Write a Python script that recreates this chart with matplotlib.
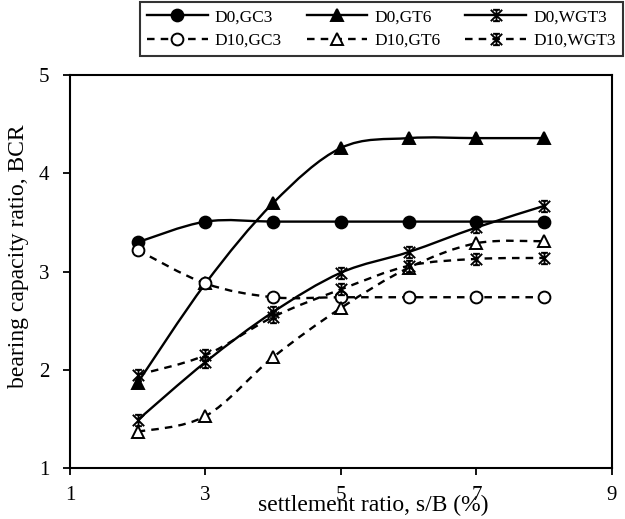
import matplotlib
matplotlib.use('Agg')
from matplotlib import pyplot as plt
from matplotlib.path import Path
from matplotlib.patches import PathPatch
from matplotlib.lines import Line2D

plt.rcParams['font.family'] = ['Liberation Serif', 'DejaVu Serif']

s_B = [2, 3, 4, 5, 6, 7, 8]

d0_gc3 = [3.30, 3.51, 3.51, 3.51, 3.51, 3.51, 3.51]
d0_gt6 = [1.87, 2.88, 3.70, 4.26, 4.36, 4.36, 4.36]
d0_wgt3 = [1.49, 2.08, 2.59, 2.99, 3.20, 3.45, 3.67]
d10_gc3 = [3.22, 2.88, 2.74, 2.74, 2.74, 2.74, 2.74]
d10_gt6 = [1.37, 1.53, 2.13, 2.63, 3.04, 3.29, 3.31]
d10_wgt3 = [1.95, 2.15, 2.54, 2.82, 3.06, 3.13, 3.14]

labels = ['D0,GC3', 'D0,GT6', 'D0,WGT3', 'D10,GC3', 'D10,GT6', 'D10,WGT3']

# asterisk-like marker like the excel "star"
star = Path([(-1, -1), (1, 1), (-1, 1), (1, -1), (0, -1.1), (0, 1.1),
             (-0.6, 1), (0.6, 1), (-0.6, -1), (0.6, -1)],
            [Path.MOVETO, Path.LINETO] * 5)


def smooth_path(x, y):
    # excel style smoothed line: bezier with control points at 1/6
    pts = list(zip(x, y))
    n = len(pts)
    verts = [pts[0]]
    codes = [Path.MOVETO]
    for i in range(n - 1):
        p0 = pts[max(i - 1, 0)]
        p1 = pts[i]
        p2 = pts[i + 1]
        p3 = pts[min(i + 2, n - 1)]
        c1 = (p1[0] + (p2[0] - p0[0]) / 6, p1[1] + (p2[1] - p0[1]) / 6)
        c2 = (p2[0] - (p3[0] - p1[0]) / 6, p2[1] - (p3[1] - p1[1]) / 6)
        verts += [c1, c2, p2]
        codes += [Path.CURVE4] * 3
    return Path(verts, codes)


fig, ax = plt.subplots(figsize=(6.25, 5.19), dpi=100)
fig.subplots_adjust(left=0.112, right=0.979, bottom=0.098, top=0.855)

solid = '-'
dashed = (0, (3.2, 2.6))
series = [
    (d0_gc3, solid, 'o', 'black', 8.5),
    (d0_gt6, solid, '^', 'black', 8.5),
    (d0_wgt3, solid, star, 'black', 9),
    (d10_gc3, dashed, 'o', 'white', 8.5),
    (d10_gt6, dashed, '^', 'white', 8.5),
    (d10_wgt3, dashed, star, 'black', 9),
]

handles = []
for (vals, ls, mk, fc, ms), lab in zip(series, labels):
    patch = PathPatch(smooth_path(s_B, vals), fill=False, edgecolor='black',
                      linewidth=1.7, linestyle=ls, transform=ax.transData,
                      zorder=2)
    ax.add_patch(patch)
    ax.plot(s_B, vals, linestyle='none', marker=mk, markersize=ms,
            markerfacecolor=fc, markeredgecolor='black', markeredgewidth=1.4,
            zorder=3)
    handles.append(Line2D([], [], color='black', linewidth=1.7, linestyle=ls,
                          marker=mk, markersize=ms, markerfacecolor=fc,
                          markeredgecolor='black', markeredgewidth=1.4))

ax.set_xlim(1, 9)
ax.set_ylim(1, 5)
ax.set_xticks([1, 3, 5, 7, 9])
ax.set_yticks([1, 2, 3, 4, 5])
ax.tick_params(direction='out', length=5, width=1.3, labelsize=15, pad=10)
ax.tick_params(axis='x', pad=8)
for sp in ax.spines.values():
    sp.set_linewidth(1.5)

ax.set_xlabel('settlement ratio, s/B (%)', fontsize=17)
ax.xaxis.set_label_coords(0.559, -0.068)
ax.set_ylabel('bearing capacity ratio, BCR', fontsize=17)
ax.yaxis.set_label_coords(-0.075, 0.54)

# legend fills by column, so reorder to get the rows right
order = [0, 3, 1, 4, 2, 5]
leg = fig.legend([handles[i] for i in order], [labels[i] for i in order],
                 ncol=3, loc='upper left',
                 bbox_to_anchor=(0.224, 0.888, 0.772, 0.108), mode='expand',
                 fontsize=12.5, handlelength=3.5, frameon=True, fancybox=False,
                 edgecolor='black', borderpad=0.4, labelspacing=0.45,
                 columnspacing=1.0, handletextpad=0.4, borderaxespad=0)
leg.get_frame().set_linewidth(1.5)

fig.savefig('out.png', dpi=100)
